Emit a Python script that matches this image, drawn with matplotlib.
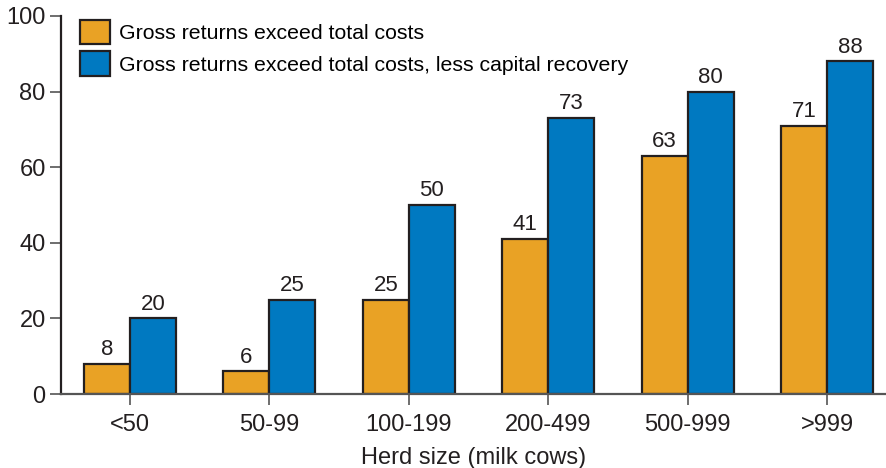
import matplotlib
matplotlib.use("Agg")
import matplotlib.pyplot as plt
import numpy as np

categories = ["<50", "50-99", "100-199", "200-499", "500-999", ">999"]
total_costs = [8, 6, 25, 41, 63, 71]
less_capital = [20, 25, 50, 73, 80, 88]
series_names = ["Gross returns exceed total costs",
                "Gross returns exceed total costs, less capital recovery"]
yticks = [0, 20, 40, 60, 80, 100]

plt.rcParams['font.family'] = ['Liberation Sans', 'DejaVu Sans']

fig = plt.figure(figsize=(8.87, 4.68), dpi=100)
ax = fig.add_axes([0.0688, 0.158, 0.9312, 0.808])

orange = "#E9A225"
blue = "#0079C1"
edge = "#231F20"
w = 0.33
x = np.arange(len(categories))
b1 = ax.bar(x - w/2, total_costs, w, color=orange, edgecolor=edge, linewidth=1.6, label=series_names[0])
b2 = ax.bar(x + w/2, less_capital, w, color=blue, edgecolor=edge, linewidth=1.6, label=series_names[1])
for bars, vals in ((b1, total_costs), (b2, less_capital)):
    for r, v in zip(bars, vals):
        ax.text(r.get_x() + r.get_width()/2, v + 1.0, str(v), ha='center', va='bottom',
                fontsize=16, color='#231F20')

ax.set_xlim(-0.495, 5.43)
ax.set_ylim(0, 100)
ax.set_xticks(x)
ax.set_xticklabels(categories, fontsize=17)
ax.set_yticks(yticks)
ax.set_yticklabels([str(t) for t in yticks], fontsize=17)
ax.tick_params(axis='both', direction='out', length=8, width=1.2, color='#555555', colors='#231F20')
ax.tick_params(axis='x', pad=6)
ax.tick_params(axis='y', pad=3)
for s in ['top', 'right']:
    ax.spines[s].set_visible(False)
ax.spines['left'].set_linewidth(1.6)
ax.spines['bottom'].set_linewidth(1.6)
ax.spines['left'].set_color(edge)
ax.spines['bottom'].set_color('#555555')
ax.set_xlabel("Herd size (milk cows)", fontsize=17, color='#231F20', labelpad=8)

leg = ax.legend(loc='upper left', bbox_to_anchor=(0.013, 1.012), frameon=False, fontsize=15.3,
                handlelength=1.4, handleheight=1.4, handletextpad=0.4, labelspacing=0.33,
                borderaxespad=0)

fig.savefig("out.png", dpi=100)
